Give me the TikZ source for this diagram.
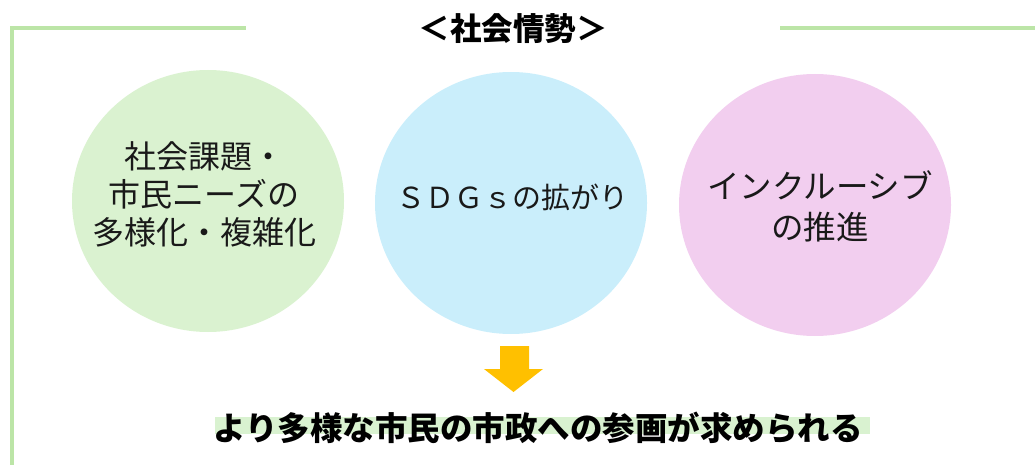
\documentclass[tikz,border=0pt]{standalone}
\usepackage{fontspec}
\setmainfont{Noto Sans CJK JP}
\usetikzlibrary{shapes.geometric}
\definecolor{framegreen}{HTML}{BCE5A7}
\definecolor{cgreen}{HTML}{DAF2D0}
\definecolor{cblue}{HTML}{CAEEFB}
\definecolor{cpink}{HTML}{F2CEEF}
\definecolor{bandgreen}{HTML}{D9F2D0}
\definecolor{arrowgold}{HTML}{FFC000}
\tikzset{
  bubble/.style={ellipse, inner sep=0pt, draw=none, minimum width=272pt, minimum height=262pt},
  bubbletext/.style={align=center, font=\fontsize{32}{38}\selectfont, text=black!90},
  frameline/.style={draw=framegreen, line width=4pt},
}
\begin{document}
\begin{tikzpicture}[x=1pt,y=-1pt]
\useasboundingbox (0,0) rectangle (1035,465);
% frame
\coordinate (fb) at (12,467);
\coordinate (fc) at (12,28);
\coordinate (fe) at (246,28);
\coordinate (rs) at (780,28);
\coordinate (re) at (1037,28);
\draw[frameline] (fb) -- (fc) -- (fe);
\draw[frameline] (rs) -- (re);
\node[font=\fontsize{31.5}{36}\selectfont\bfseries] (title) at (513,29) {＜社会情勢＞};
% circles
\node[bubble, fill=cgreen] (c1) at (208,201) {};
\node[bubble, fill=cblue] (c2) at (511,203) {};
\node[bubble, fill=cpink] (c3) at (815,205) {};
\node[bubbletext] (t1) at (204,194) {社会課題・\\市民ニーズの\\多様化・複雑化};
\node[bubbletext, font=\fontsize{29}{36}\selectfont] (t2) at (512,197) {ＳＤＧｓの拡がり};
\node[bubbletext, font=\fontsize{32.5}{41}\selectfont] (t3) at (820,206) {インクルーシブ\\の推進};
% arrow
\fill[arrowgold] (500,346) -- (529,346) -- (529,369) -- (543,369) -- (513.5,392) -- (484,369) -- (500,369) -- cycle;
% conclusion
\fill[bandgreen] (215,417) rectangle (870,434);
\node[font=\fontsize{32.5}{38}\selectfont\bfseries] (res) at (538,428) {より多様な市民の市政への参画が求められる};
\end{tikzpicture}
\end{document}
